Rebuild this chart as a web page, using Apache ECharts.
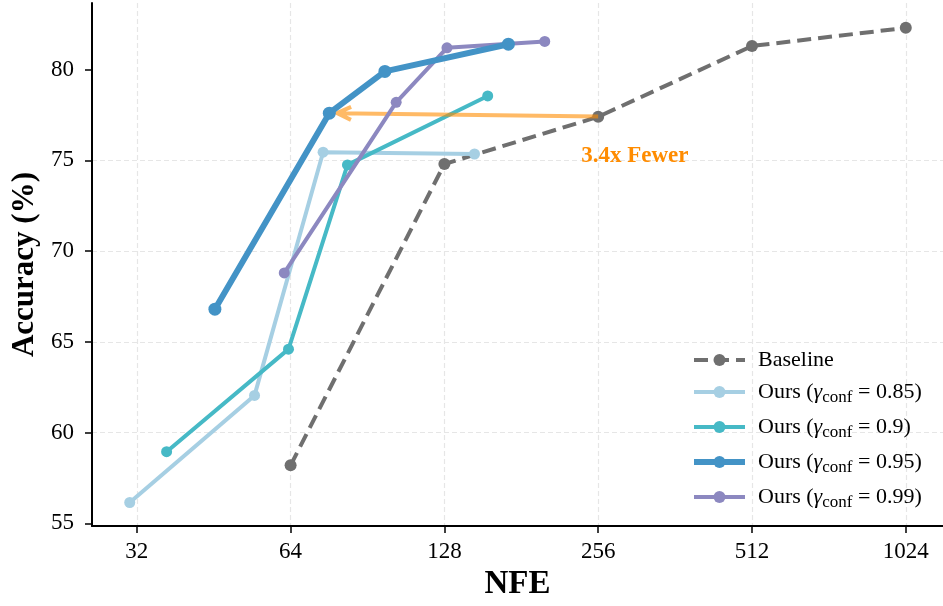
<!DOCTYPE html>
<html><head><meta charset="utf-8">
<script src="https://cdn.jsdelivr.net/npm/echarts@6/dist/echarts.min.js"></script>
<style>html,body{margin:0;padding:0;background:#fff}#c{width:943px;height:606px}</style>
</head><body><div id="c"></div>
<script>
// ---- data ----
const seriesNames = ['Baseline', 'Ours (γ_conf = 0.85)', 'Ours (γ_conf = 0.9)', 'Ours (γ_conf = 0.95)', 'Ours (γ_conf = 0.99)'];
const baselineNFE = [64, 128, 256, 512, 1024];
const baselineAcc = [58.2, 74.8, 77.4, 81.3, 82.3];
const ours085NFE = [31, 54.4, 74.1, 146.6];
const ours085Acc = [56.15, 62.05, 75.45, 75.35];
const ours090NFE = [36.6, 63.4, 82.7, 155.6];
const ours090Acc = [58.95, 64.6, 74.75, 78.55];
const ours095NFE = [45.5, 76.2, 97.9, 170.8];
const ours095Acc = [66.8, 77.6, 79.9, 81.4];
const ours099NFE = [62.2, 103.0, 129.5, 201.2];
const ours099Acc = [68.8, 78.2, 81.2, 81.55];
const xTicks = [32, 64, 128, 256, 512, 1024];
const yTicks = [55, 60, 65, 70, 75, 80];
const arrowFrom = [256, 77.42];
const arrowTo = [78.9, 77.6];
const annotationText = '3.4x Fewer';
const annotationAt = [302, 75.22];

// ---- styling ----
const FONT = 'Liberation Serif';
const colors = ['#6f6f6f', '#a6cfe3', '#46b9c6', '#4393c6', '#8c88c0'];
const widths = [4, 4, 4, 6, 4];
const sizes = [12, 11, 11, 13, 11];
const zs = [2, 3, 4, 6, 5];
const xs = [baselineNFE, ours085NFE, ours090NFE, ours095NFE, ours099NFE];
const ys = [baselineAcc, ours085Acc, ours090Acc, ours095Acc, ours099Acc];
const ARROW_COLOR = 'rgba(255,140,0,0.6)';

const series = seriesNames.map((name, i) => {
  const s = {
    name: name,
    type: 'line',
    data: xs[i].map((x, j) => [x, ys[i][j]]),
    symbol: 'circle',
    symbolSize: sizes[i],
    showSymbol: true,
    z: zs[i],
    lineStyle: { color: colors[i], width: widths[i], type: i === 0 ? [14, 7] : 'solid', cap: 'butt' },
    itemStyle: { color: colors[i] },
    emphasis: { disabled: true }
  };
  if (i === 0) {
    s.markPoint = {
      silent: true,
      animation: false,
      symbol: 'rect',
      symbolSize: 1,
      itemStyle: { color: 'rgba(0,0,0,0)' },
      label: {
        show: true, position: 'inside', formatter: annotationText,
        color: '#ff8c00', fontWeight: 'bold', fontSize: 23, fontFamily: FONT
      },
      data: [{ coord: annotationAt }]
    };
  }
  return s;
});

// arrow (shaft + open head) drawn through the axes' scales
series.push({
  type: 'custom',
  name: 'arrow',
  coordinateSystem: 'cartesian2d',
  silent: true,
  z: 4.5,
  encode: { x: [0, 2], y: [1, 3] },
  data: [[arrowFrom[0], arrowFrom[1], arrowTo[0], arrowTo[1]]],
  renderItem: function (params, api) {
    const p1 = api.coord([api.value(0), api.value(1)]);
    const p2 = api.coord([api.value(2), api.value(3)]);
    const dx = p2[0] - p1[0], dy = p2[1] - p1[1];
    const len = Math.sqrt(dx * dx + dy * dy);
    const ux = dx / len, uy = dy / len;
    const nx = -uy, ny = ux;
    const L = 14, W = 6.5;
    const a1 = [p2[0] - ux * L + nx * W, p2[1] - uy * L + ny * W];
    const a2 = [p2[0] - ux * L - nx * W, p2[1] - uy * L - ny * W];
    const d = 'M' + p1[0] + ',' + p1[1] + ' L' + p2[0] + ',' + p2[1] +
      ' M' + a1[0] + ',' + a1[1] + ' L' + p2[0] + ',' + p2[1] + ' L' + a2[0] + ',' + a2[1];
    return {
      type: 'path',
      shape: { pathData: d },
      style: { stroke: ARROW_COLOR, lineWidth: 4, fill: null, lineJoin: 'miter', lineCap: 'butt' }
    };
  }
});

const legendData = seriesNames.map((n, i) => ({ name: n, lineStyle: { width: widths[i] } }));

const chart = echarts.init(document.getElementById('c'), null, { renderer: 'canvas' });
chart.setOption({
  animation: false,
  backgroundColor: '#fff',
  grid: { left: 92, right: -2, top: 3, bottom: 75, containLabel: false },
  xAxis: {
    type: 'log', logBase: 2, min: 26.15, max: 1211,
    name: 'NFE', nameLocation: 'middle', nameGap: 31,
    nameTextStyle: { fontFamily: FONT, fontSize: 33, fontWeight: 'bold', color: '#000' },
    axisLine: { show: true, lineStyle: { color: '#000', width: 2 } },
    axisTick: { show: true, length: 7, lineStyle: { color: '#000', width: 1.5 } },
    axisLabel: {
      fontFamily: FONT, fontSize: 23, color: '#000', margin: 14,
      showMinLabel: false, showMaxLabel: false,
      formatter: v => xTicks.includes(Math.round(v)) ? String(Math.round(v)) : ''
    },
    splitLine: { show: true, showMinLine: false, showMaxLine: false, lineStyle: { color: '#e6e6e6', width: 1.2, type: [5, 3] } }
  },
  yAxis: {
    type: 'value', min: 54.85, max: 83.67,
    name: 'Accuracy (%)', nameLocation: 'middle', nameGap: 50, nameRotate: 90,
    nameTextStyle: { fontFamily: FONT, fontSize: 31, fontWeight: 'bold', color: '#000' },
    axisLine: { show: true, lineStyle: { color: '#000', width: 2 } },
    axisTick: { show: true, length: 7, customValues: yTicks, lineStyle: { color: '#000', width: 1.5 } },
    axisLabel: { fontFamily: FONT, fontSize: 23, color: '#000', margin: 18, customValues: yTicks },
    splitLine: { show: true, showMinLine: false, showMaxLine: false, lineStyle: { color: '#e6e6e6', width: 1.2, type: [5, 3] } }
  },
  legend: {
    orient: 'vertical', left: 691, top: 349, padding: 0,
    itemWidth: 51, itemHeight: 15, itemGap: 10,
    data: legendData,
    formatter: function (name) {
      if (name === 'Baseline') return '{f|Baseline}';
      const val = name.split('= ')[1].replace(')', '');
      return '{f|Ours (}{g|γ}{s|conf}{n| = ' + val + ')}';
    },
    textStyle: {
      fontFamily: FONT, fontSize: 22, color: '#000',
      rich: {
        f: { fontFamily: FONT, fontSize: 22, color: '#000', lineHeight: 28, padding: [0, 0, 0, 8] },
        n: { fontFamily: FONT, fontSize: 22, color: '#000', lineHeight: 28 },
        g: { fontFamily: FONT, fontSize: 22, color: '#000', lineHeight: 28, fontStyle: 'italic' },
        s: { fontFamily: FONT, fontSize: 17, color: '#000', lineHeight: 18, verticalAlign: 'bottom' }
      }
    }
  },
  series: series
});
</script>
</body></html>
